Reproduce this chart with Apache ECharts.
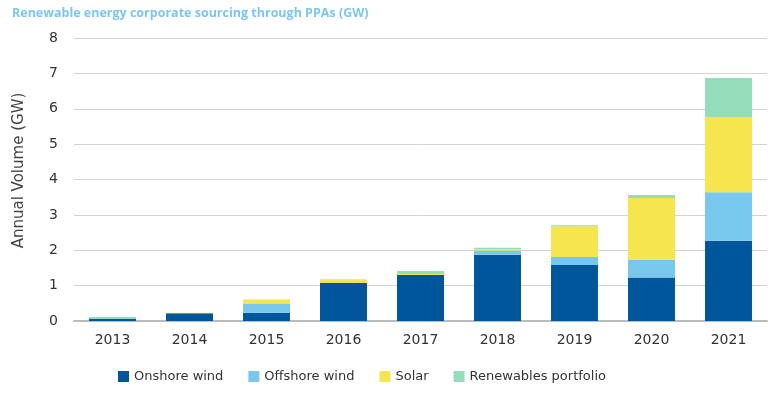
<!DOCTYPE html>
<html>
<head>
<meta charset="utf-8">
<script src="https://cdn.jsdelivr.net/npm/echarts@6/dist/echarts.min.js"></script>
<style>
html,body{margin:0;padding:0;background:#fff;}
#chart{width:784px;height:394px;}
</style>
</head>
<body>
<div id="chart"></div>
<script>
const titleText = 'Renewable energy corporate sourcing through PPAs (GW)';
const yAxisName = 'Annual Volume (GW)';
const years = ['2013','2014','2015','2016','2017','2018','2019','2020','2021'];
const onshoreWind = [0.06, 0.22, 0.23, 1.08, 1.30, 1.87, 1.58, 1.23, 2.27];
const offshoreWind = [0, 0, 0.25, 0, 0, 0.12, 0.23, 0.50, 1.37];
const solar = [0, 0.01, 0.12, 0.10, 0.03, 0.04, 0.87, 1.75, 2.12];
const renewablesPortfolio = [0.05, 0, 0.01, 0, 0.08, 0.04, 0.03, 0.08, 1.11];
const seriesNames = ['Onshore wind', 'Offshore wind', 'Solar', 'Renewables portfolio'];
const colors = ['#00569a', '#78c7ec', '#f5e54e', '#94dcba'];

const chart = echarts.init(document.getElementById('chart'));
const font = 'DejaVu Sans';
const dataSets = [onshoreWind, offshoreWind, solar, renewablesPortfolio];
chart.setOption({
  animation: false,
  color: colors,
  title: {
    text: titleText, left: 7, top: 2,
    textStyle: {fontFamily: 'Open Sans', fontWeight: 'bold', fontSize: 12.5, color: '#7cc6ec'}
  },
  legend: {
    bottom: 6, left: 113,
    itemWidth: 11, itemHeight: 11, itemGap: 25,
    icon: 'rect',
    textStyle: {fontFamily: font, fontSize: 13, color: '#333'},
    data: seriesNames
  },
  grid: {left: 74, right: 17, top: 38, bottom: 73},
  xAxis: {
    type: 'category', data: years,
    axisLine: {lineStyle: {color: '#bbb', width: 2}},
    axisTick: {show: false},
    axisLabel: {fontFamily: font, fontSize: 14, color: '#333', margin: 12}
  },
  yAxis: {
    type: 'value', min: 0, max: 8, interval: 1,
    name: yAxisName, nameLocation: 'middle', nameGap: 47,
    nameTextStyle: {fontFamily: font, fontSize: 15, color: '#444', padding: [0, 0, 0, 18]},
    axisLine: {show: false}, axisTick: {show: false},
    axisLabel: {fontFamily: font, fontSize: 14, color: '#333', margin: 16},
    splitLine: {lineStyle: {color: '#d3d3d3', width: 1}}
  },
  series: seriesNames.map((n, i) => ({
    name: n, type: 'bar', stack: 'total', barCategoryGap: '39%',
    data: dataSets[i],
    itemStyle: {color: colors[i]}
  }))
});
</script>
</body>
</html>
